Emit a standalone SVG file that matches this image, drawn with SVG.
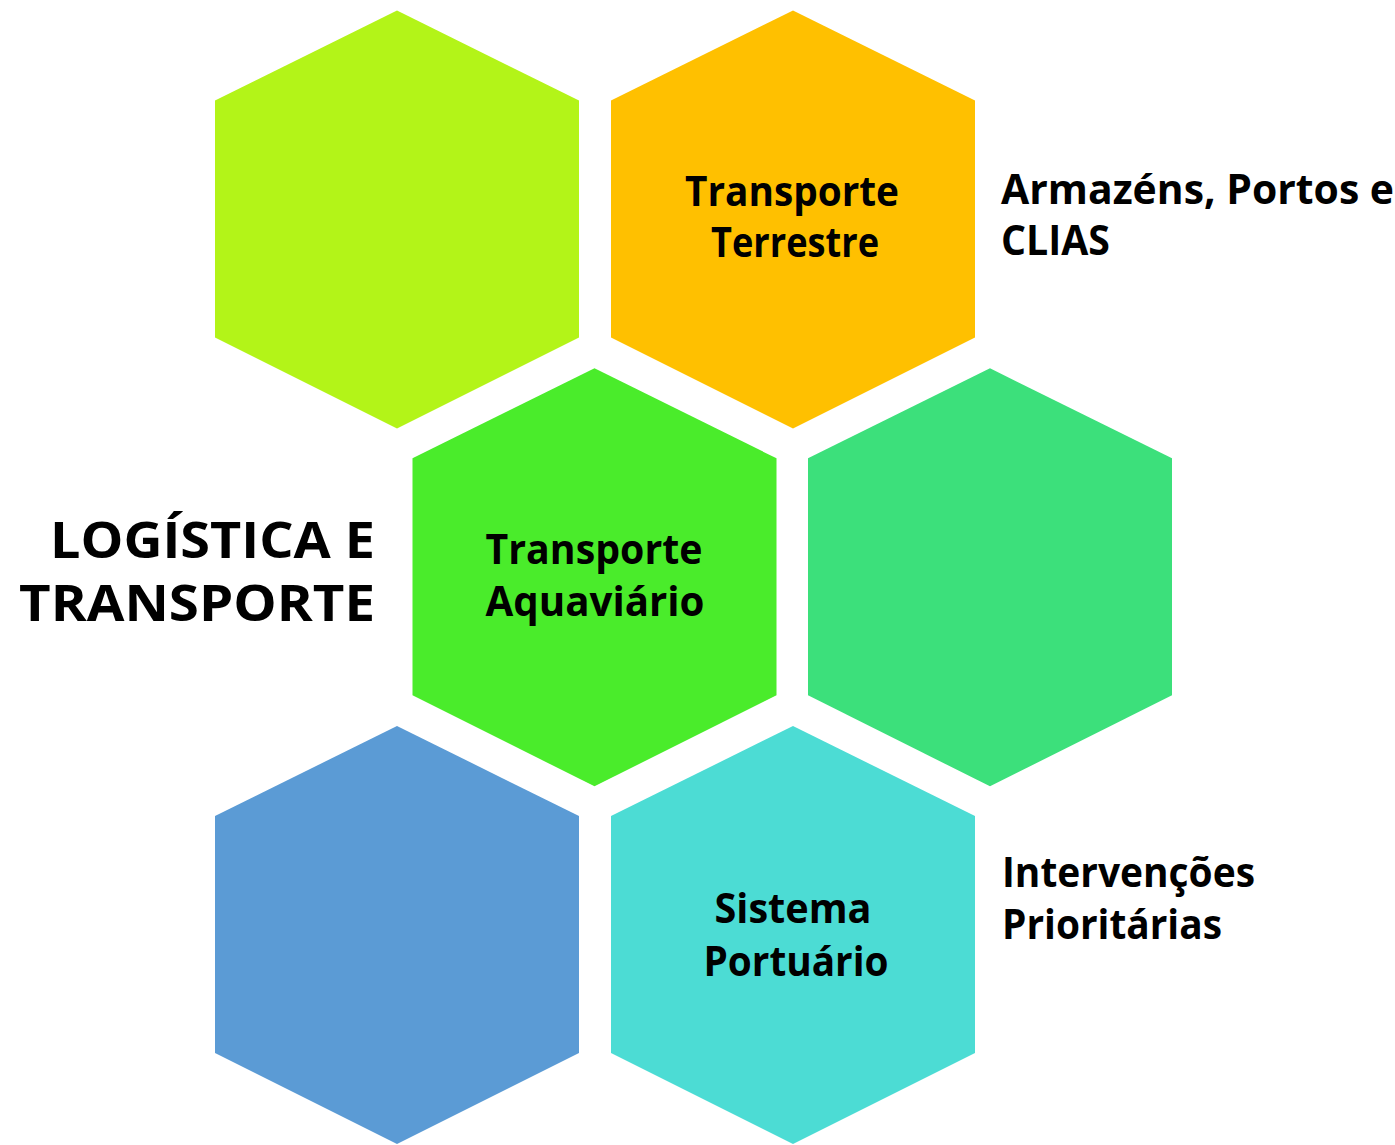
<svg xmlns="http://www.w3.org/2000/svg" width="1395" height="1145" viewBox="0 0 1395 1145">
<defs>
<style>
.t{font-family:"Open Sans","Liberation Sans",sans-serif;font-weight:bold;fill:#000;}
.h{font-size:41px;}
.s{font-size:41px;}
.big{font-size:50px;}
</style>
<polygon id="hex" points="0,0 182,90 182,327 0,418 -182,327 -182,90"/>
</defs>
<rect width="1395" height="1145" fill="#fff"/>
<g id="hex1"><use href="#hex" x="397" y="10.5" fill="#B3F418"/></g>
<g id="hex2"><use href="#hex" x="793" y="10.5" fill="#FFC000"/>
<text class="t h" x="792" y="206" text-anchor="middle" textLength="214" lengthAdjust="spacingAndGlyphs">Transporte</text>
<text class="t h" x="795" y="257" text-anchor="middle" textLength="168" lengthAdjust="spacingAndGlyphs">Terrestre</text></g>
<g id="hex3"><use href="#hex" x="594.5" y="368.3" fill="#4AEC2B"/>
<text class="t h" x="594" y="564" text-anchor="middle" textLength="217" lengthAdjust="spacingAndGlyphs">Transporte</text>
<text class="t h" x="595" y="616" text-anchor="middle" textLength="219" lengthAdjust="spacingAndGlyphs">Aquaviário</text></g>
<g id="hex4"><use href="#hex" x="990" y="368.3" fill="#3CE07B"/></g>
<g id="hex5"><use href="#hex" x="397" y="726" fill="#5B9BD5"/></g>
<g id="hex6"><use href="#hex" x="793" y="726" fill="#4CDCD4"/>
<text class="t h" x="793" y="923" text-anchor="middle" textLength="157" lengthAdjust="spacingAndGlyphs">Sistema</text>
<text class="t h" x="796" y="976" text-anchor="middle" textLength="185" lengthAdjust="spacingAndGlyphs">Portuário</text></g>
<g id="title">
<text class="t big" x="375" y="558" text-anchor="end" textLength="325" lengthAdjust="spacingAndGlyphs">LOGÍSTICA E</text>
<text class="t big" x="375" y="621" text-anchor="end" textLength="356" lengthAdjust="spacingAndGlyphs">TRANSPORTE</text></g>
<g id="label-armazens">
<text class="t s" x="1001" y="204" textLength="393" lengthAdjust="spacingAndGlyphs">Armazéns, Portos e</text>
<text class="t s" x="1001" y="255" textLength="109" lengthAdjust="spacingAndGlyphs">CLIAS</text></g>
<g id="label-intervencoes">
<text class="t s" x="1002" y="887" textLength="253" lengthAdjust="spacingAndGlyphs">Intervenções</text>
<text class="t s" x="1002" y="939" textLength="220" lengthAdjust="spacingAndGlyphs">Prioritárias</text></g>
<g id="connectors"></g>
</svg>
